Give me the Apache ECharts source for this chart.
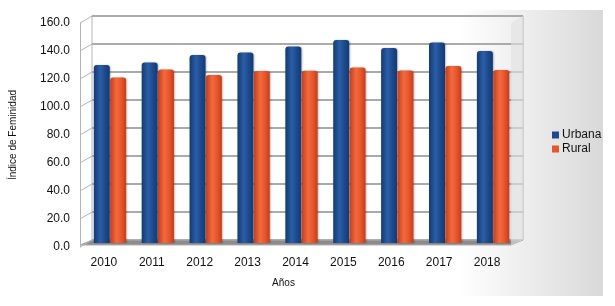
<!DOCTYPE html>
<html>
<head>
<meta charset="utf-8">
<script src="https://cdn.jsdelivr.net/npm/echarts@6/dist/echarts.min.js"></script>
<style>
  html, body { margin:0; padding:0; background:#fff; }
  #chart { width:615px; height:306px; }
</style>
</head>
<body>
<div id="chart"></div>
<script>
var years = ['2010', '2011', '2012', '2013', '2014', '2015', '2016', '2017', '2018'];
var urbana = [127.1, 129.0, 134.3, 136.0, 140.4, 145.0, 139.3, 143.2, 137.1];
var rural = [118.2, 124.0, 120.0, 122.9, 123.0, 125.4, 123.2, 126.4, 123.6];
var yMin = 0, yMax = 160, yStep = 20;

var font = 'Liberation Sans';

// three grids fake the 3D look: back wall, bars, front labels
var back = {left: 92, top: 16, width: 431, height: 224};
var bars = {left: 86, top: 19, width: 431, height: 224};
var front = {left: 80, top: 23, width: 431, height: 224};

function cyl(dark, mid, light) {
	return new echarts.graphic.LinearGradient(0, 0, 1, 0, [
		{offset: 0, color: dark},
		{offset: 0.4, color: light},
		{offset: 0.7, color: mid},
		{offset: 1, color: dark}
	]);
}

var chart = echarts.init(document.getElementById('chart'));

var option = {
	animation: false,
	textStyle: {fontFamily: font},
	grid: [
		{left: back.left, top: back.top, width: back.width, height: back.height,
			show: true, borderColor: '#b4b4b4', borderWidth: 1, backgroundColor: 'transparent'},
		{left: bars.left, top: bars.top, width: bars.width, height: bars.height},
		{left: front.left, top: front.top, width: front.width, height: front.height}
	],
	legend: {
		orient: 'vertical',
		left: 547,
		top: 124,
		itemWidth: 7,
		itemHeight: 7,
		itemGap: 2,
		icon: 'rect',
		textStyle: {fontFamily: font, fontSize: 12, color: '#111', padding: [0, 0, 0, -2]},
		data: [{name: 'Urbana', itemStyle: {color: '#1d4a8c'}}, {name: 'Rural', itemStyle: {color: '#e8552b'}}]
	},
	xAxis: [
		{type: 'category', gridIndex: 0, data: years, show: false},
		{type: 'category', gridIndex: 1, data: years, show: false},
		{type: 'category', gridIndex: 2, data: years,
			axisLine: {show: false}, axisTick: {show: false},
			axisLabel: {color: '#111', fontSize: 12, margin: 10, fontFamily: font},
			name: 'Años', nameLocation: 'middle', nameGap: 31,
			nameTextStyle: {color: '#111', fontSize: 10, fontFamily: font, padding: [0, 24, 0, 0]}}
	],
	yAxis: [
		{type: 'value', gridIndex: 0, min: yMin, max: yMax, interval: yStep,
			axisLabel: {show: false}, axisLine: {show: false}, axisTick: {show: false},
			splitLine: {lineStyle: {color: '#ababab', width: 2}}},
		{type: 'value', gridIndex: 1, min: yMin, max: yMax, interval: yStep, show: false},
		{type: 'value', gridIndex: 2, min: yMin, max: yMax, interval: yStep,
			axisLine: {show: true, lineStyle: {color: '#b4b4b4'}}, axisTick: {show: false},
			splitLine: {show: false},
			axisLabel: {color: '#111', fontSize: 12, margin: 10, fontFamily: font,
				formatter: function (v) { return v.toFixed(1); }},
			name: 'Índice de Feminidad', nameLocation: 'middle', nameRotate: 90, nameGap: 62,
			nameTextStyle: {color: '#111', fontSize: 10, fontFamily: font, padding: [0, 0, 0, 0]}}
	],
	series: [
		{name: 'Urbana', type: 'bar', xAxisIndex: 1, yAxisIndex: 1, data: urbana,
			barWidth: 16, barGap: '2%',
			itemStyle: {color: cyl('#133a72', '#1d4a8c', '#2b5ea8'), borderRadius: [3, 3, 0, 0],
				shadowColor: 'rgba(0,0,0,0.25)', shadowBlur: 2, shadowOffsetX: 1}},
		{name: 'Rural', type: 'bar', xAxisIndex: 1, yAxisIndex: 1, data: rural,
			barWidth: 16,
			itemStyle: {color: cyl('#c23e1c', '#e8552b', '#f26a3e'), borderRadius: [3, 3, 0, 0],
				shadowColor: 'rgba(0,0,0,0.25)', shadowBlur: 2, shadowOffsetX: 1}}
	]
};

chart.setOption(option);

// decoration: background gradient, floor and slanted left-wall lines
var deco = [{
	type: 'rect', z: -10, silent: true,
	shape: {x: 0, y: 10, width: 603, height: 286},
	style: {fill: new echarts.graphic.LinearGradient(0, 0, 1, 0, [
		{offset: 0, color: '#ffffff'}, {offset: 0.76, color: '#ffffff'}, {offset: 1, color: '#d9d9d9'}])}
}, {
	type: 'polygon', z: 1, silent: true,
	shape: {points: [
		[front.left, bars.top + bars.height + 2],
		[front.left + front.width, bars.top + bars.height + 2],
		[back.left + back.width, back.top + back.height],
		[back.left, back.top + back.height]]},
	style: {fill: '#8c8c8c', stroke: '#b0b0b0', lineWidth: 1}
}, {
	type: 'polygon', z: 1, silent: true,
	shape: {points: [
		[front.left + front.width, bars.top + bars.height + 2],
		[back.left + back.width, back.top + back.height],
		[back.left + back.width, back.top],
		[front.left + front.width, front.top]]},
	style: {fill: 'rgba(225,225,225,0.6)', stroke: 'none'}
}];
for (var v = yMin; v <= yMax; v += yStep) {
	var pf = chart.convertToPixel({yAxisIndex: 2}, v);
	var pb = chart.convertToPixel({yAxisIndex: 0}, v);
	deco.push({
		type: 'line', z: 1, silent: true,
		shape: {x1: front.left, y1: pf, x2: back.left, y2: pb},
		style: {stroke: '#b4b4b4', lineWidth: 1}
	});
}
chart.setOption({graphic: deco});
</script>
</body>
</html>
